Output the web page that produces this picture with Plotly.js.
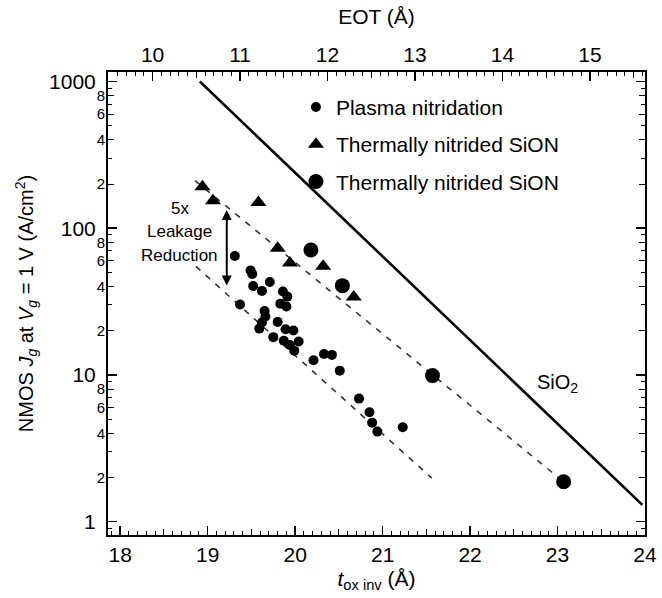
<!DOCTYPE html>
<html>
<head>
<meta charset="utf-8">
<script src="https://cdn.plot.ly/plotly-3.0.1.min.js"></script>
<style>html,body{margin:0;padding:0;background:#fff;}</style>
</head>
<body>
<div id="chart" style="width:662px;height:598px;"></div>
<script>
// ---- data ----
const plasmaTox = [19.31,19.49,19.51,19.52,19.62,19.71,19.86,19.91,19.83,19.90,19.37,19.65,19.66,19.62,19.59,19.80,19.75,19.89,19.98,19.87,19.94,20.04,19.99,20.21,20.33,20.42,20.51,20.73,20.85,20.88,20.94,21.23];
const plasmaJ   = [64.7,51.6,48.8,40.4,37.4,43.0,37.1,34.2,30.6,29.3,30.2,27.3,25.0,22.8,20.7,23.0,18.1,20.5,20.1,17.1,16.0,16.9,14.6,12.6,13.9,13.7,10.7,6.9,5.57,4.73,4.11,4.40];
const triTox = [18.94,19.06,19.58,19.80,19.94,20.32,20.67];
const triJ   = [192,154,150,73,58,55,34];
const bigTox = [20.18,20.54,21.57,23.07];
const bigJ   = [71,40.6,9.9,1.87];
const sio2Tox = [18.91,23.97];
const sio2J   = [1000,1.3];
const upperDashTox = [18.855,23.07];
const upperDashJ   = [211,1.87];
const lowerDashTox = [18.866,21.563];
const lowerDashJ   = [54.9,1.98];
const arrowTox = 19.218;
const arrowJ = [133,39.8];
const xTicks = [18,19,20,21,22,23,24];
const eotTicks = [10,11,12,13,14,15];
const eotOffset = 8.37;
const yMajor = [1,10,100,1000];
const yMinor = [2,4,6,8,20,40,60,80,200,400,600,800];
const yMinorText = ['2','4','6','8','2','4','6','8','2','4','6','8'];
const labels = ['Plasma nitridation','Thermally nitrided SiON','Thermally nitrided SiON'];

const FONT = 'Liberation Sans, Arial, Helvetica, sans-serif';
const xRange = [17.86, 24.0];
const yRange = [-0.091, 3.065];
const halfTicks = xTicks.slice(0,-1).map(v=>v+0.5);
const eotHalf = eotTicks.map(v=>v+0.5);

const traces = [
  {x:sio2Tox, y:sio2J, mode:'lines', line:{color:'#000', width:2.6}, showlegend:false, hoverinfo:'skip'},
  {x:upperDashTox, y:upperDashJ, mode:'lines', line:{color:'#333', width:1.6, dash:'6px,7px'}, showlegend:false, hoverinfo:'skip'},
  {x:lowerDashTox, y:lowerDashJ, mode:'lines', line:{color:'#333', width:1.6, dash:'6px,7px'}, showlegend:false, hoverinfo:'skip'},
  {x:plasmaTox, y:plasmaJ, mode:'markers', name:labels[0], legendgroup:'a', marker:{symbol:'circle', size:10, color:'#000'}},
  {x:triTox, y:triJ, mode:'markers', name:labels[1], legendgroup:'b', marker:{symbol:'triangle-up', size:14, color:'#000'}},
  {x:bigTox, y:bigJ, mode:'markers', name:labels[2], legendgroup:'c', marker:{symbol:'circle', size:15, color:'#000'}},
  {x:[null], y:[null], xaxis:'x2', yaxis:'y', showlegend:false, hoverinfo:'skip'},
  {x:[null], y:[null], xaxis:'x3', yaxis:'y', showlegend:false, hoverinfo:'skip'},
  {x:[null], y:[null], xaxis:'x4', yaxis:'y', showlegend:false, hoverinfo:'skip'},
  {x:[null], y:[null], xaxis:'x', yaxis:'y2', showlegend:false, hoverinfo:'skip'}
];

const L = Math.log10;
const layout = {
  width:662, height:598,
  margin:{l:108, r:17, t:72, b:63},
  paper_bgcolor:'#fff', plot_bgcolor:'#fff',
  font:{family:FONT, color:'#000', size:21},
  showlegend:true,
  legend:{x:0.35, y:0.968, xanchor:'left', yanchor:'top', bgcolor:'rgba(0,0,0,0)', font:{size:21}, tracegroupgap:7},
  xaxis:{range:xRange, tickvals:xTicks, ticks:'inside', ticklen:9, tickwidth:1.5, tickcolor:'#000',
    showline:true, linewidth:2, linecolor:'#000', showgrid:false, zeroline:false, tickfont:{size:21},
    minor:{dtick:0.1, tick0:0, ticks:'inside', ticklen:4, tickwidth:1, tickcolor:'#000', showgrid:false},
    title:{text:'<i>t</i><sub>ox inv</sub> (Å)', font:{size:21}, standoff:6}},
  xaxis2:{overlaying:'x', side:'top', anchor:'y', range:[xRange[0]-eotOffset, xRange[1]-eotOffset], tickvals:eotTicks,
    ticks:'inside', ticklen:9, tickwidth:1.5, tickcolor:'#000', showline:true, linewidth:2, linecolor:'#000',
    showgrid:false, zeroline:false, tickfont:{size:21},
    minor:{dtick:0.1, tick0:0, ticks:'inside', ticklen:4, tickwidth:1, tickcolor:'#000', showgrid:false},
    title:{text:'EOT (Å)', font:{size:21}, standoff:12}},
  xaxis3:{overlaying:'x', side:'bottom', anchor:'y', range:xRange, tickvals:halfTicks, ticks:'inside', ticklen:6, tickwidth:1,
    tickcolor:'#000', showticklabels:false, showline:false, showgrid:false, zeroline:false},
  xaxis4:{overlaying:'x', side:'top', anchor:'y', range:[xRange[0]-eotOffset, xRange[1]-eotOffset], tickvals:eotHalf, ticks:'inside', ticklen:6, tickwidth:1,
    tickcolor:'#000', showticklabels:false, showline:false, showgrid:false, zeroline:false},
  yaxis:{type:'log', range:yRange, tickvals:yMajor, ticktext:yMajor.map(String), ticks:'inside', ticklen:9, tickwidth:1.5,
    tickcolor:'#000', showline:true, linewidth:2, linecolor:'#000', mirror:'ticks', showgrid:false, zeroline:false,
    tickfont:{size:21}, ticklabelstandoff:6,
    minor:{dtick:'D1', ticks:'inside', ticklen:4, tickwidth:1, tickcolor:'#000', showgrid:false},
    title:{text:'NMOS <i>J</i><sub><i>g</i></sub> at <i>V</i><sub><i>g</i></sub> = 1 V (A/cm<sup>2</sup>)', font:{size:20}, standoff:10}},
  yaxis2:{type:'log', overlaying:'y', side:'left', anchor:'x', range:yRange, tickvals:yMinor, ticktext:yMinorText,
    ticks:'inside', ticklen:6, tickwidth:1, tickcolor:'#000', mirror:'ticks', showline:false, showgrid:false, zeroline:false,
    tickfont:{size:15}, ticklabelstandoff:2},
  annotations:[
    {x:arrowTox, y:L(arrowJ[0]), ax:arrowTox, ay:L(arrowJ[1]), xref:'x', yref:'y', axref:'x', ayref:'y', text:'',
     showarrow:true, arrowhead:2, arrowside:'end+start', arrowsize:1, arrowwidth:2, arrowcolor:'#000', standoff:0, startstandoff:0},
    {x:18.683, y:2.138, xref:'x', yref:'y', text:'5x', showarrow:false, font:{size:17}},
    {x:18.683, y:1.975, xref:'x', yref:'y', text:'Leakage', showarrow:false, font:{size:17}},
    {x:18.683, y:1.811, xref:'x', yref:'y', text:'Reduction', showarrow:false, font:{size:17}},
    {x:23.0, y:0.945, xref:'x', yref:'y', text:'SiO<sub>2</sub>', showarrow:false, font:{size:20}}
  ]
};

Plotly.newPlot('chart', traces, layout, {displayModeBar:false, staticPlot:true});
</script>
</body>
</html>
